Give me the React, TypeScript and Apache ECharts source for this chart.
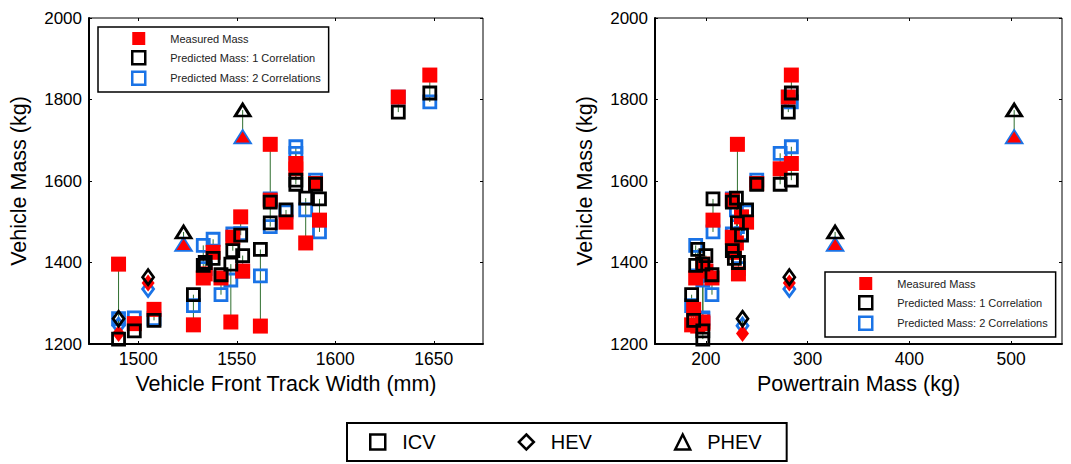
import React, { useEffect, useRef } from "react";
import * as echarts from "echarts";

// ---------- DATA ----------
// ICV vehicles
const icvTrack = [1490, 1498, 1508, 1528, 1533, 1538, 1542, 1547, 1548, 1552, 1553, 1562, 1567, 1567, 1575, 1580, 1580, 1585, 1590, 1592, 1632, 1648, 1534];
const icvPowertrain = [197, 197, 188, 186, 190, 228, 206, 197, 226, 235, 200, 192, 231, 226, 240, 284, 273, 230, 250, 207, 281, 284, 232];
const icvMeasured = [1396, 1250, 1285, 1247, 1362, 1425, 1362, 1254, 1462, 1512, 1379, 1244, 1690, 1553, 1499, 1643, 1630, 1448, 1594, 1504, 1806, 1860, 1372];
const icvPred1 = [1212, 1232, 1258, 1321, 1393, 1410, 1370, 1396, 1429, 1467, 1417, 1432, 1497, 1548, 1529, 1602, 1592, 1558, 1592, 1556, 1769, 1816, 1400];
const icvPred2 = [1262, 1264, 1262, 1294, 1442, 1457, 1321, 1357, 1470, 1471, 1379, 1367, 1488, 1556, 1524, 1684, 1668, 1529, 1602, 1475, 1806, 1794, 1385];

// HEV vehicles
const hevTrack = [1490, 1505];
const hevPowertrain = [236, 282];
const hevMeasured = [1226, 1350];
const hevPred1 = [1262, 1364];
const hevPred2 = [1245, 1335];

// PHEV vehicles
const phevTrack = [1553, 1523];
const phevPowertrain = [503, 327];
const phevMeasured = [1708, 1444];
const phevPred1 = [1774, 1475];
const phevPred2 = [1708, 1444];

// Axis ticks
const trackTicks = [1500, 1550, 1600, 1650];
const powertrainTicks = [200, 300, 400, 500];
const massTicksMin = 1200;
const massTicksMax = 2000;
const massTickStep = 200;

const LEG_MEAS = "Measured Mass";
const LEG_P1 = "Predicted Mass: 1 Correlation";
const LEG_P2 = "Predicted Mass: 2 Correlations";
const typeLegend = ["ICV", "HEV", "PHEV"];

// ---------- STYLE ----------
const FONT = "'Liberation Sans', Arial, Helvetica, sans-serif";
const RED = "#ff0000";
const BLUE = "#1a73e6";
const BLACK = "#000000";
const GREEN = "#2f6f2f";
const NONE = "rgba(0,0,0,0)";

const plain = (v: number) => String(v);

function pairs(xs: number[], ys: number[]) {
  return xs.map((x, i) => [x, ys[i]]);
}

function spans(xs: number[], a: number[], b: number[], c: number[]) {
  return xs.map((x, i) => [x, Math.min(a[i], b[i], c[i]), Math.max(a[i], b[i], c[i])]);
}

function buildSeries(
  xi: number,
  yi: number,
  icvX: number[],
  hevX: number[],
  phevX: number[]
) {
  const base = { xAxisIndex: xi, yAxisIndex: yi, silent: true };
  const lineData = [
    ...spans(icvX, icvMeasured, icvPred1, icvPred2),
    ...spans(hevX, hevMeasured, hevPred1, hevPred2),
    ...spans(phevX, phevMeasured, phevPred1, phevPred2),
  ];
  const filled = { color: RED, opacity: 1 };
  const hollow = (color: string) => ({ color: NONE, borderColor: color, borderWidth: 2.8, opacity: 1 });
  return [
    {
      ...base,
      type: "custom",
      name: "links",
      data: lineData,
      encode: { x: 0, y: [1, 2] },
      renderItem: (_p: any, api: any) => {
        const a = api.coord([api.value(0), api.value(1)]);
        const b = api.coord([api.value(0), api.value(2)]);
        return {
          type: "line",
          shape: { x1: a[0], y1: a[1], x2: b[0], y2: b[1] },
          style: { stroke: GREEN, lineWidth: 1 },
        };
      },
    },
    // predicted 2
    { ...base, type: "scatter", name: LEG_P2, symbol: "rect", symbolSize: 12, itemStyle: hollow(BLUE), data: pairs(icvX, icvPred2) },
    { ...base, type: "scatter", name: "HEV p2", symbol: "diamond", symbolSize: [11, 15], itemStyle: hollow(BLUE), data: pairs(hevX, hevPred2) },
    { ...base, type: "scatter", name: "PHEV p2", symbol: "triangle", symbolSize: [15, 12], itemStyle: hollow(BLUE), data: pairs(phevX, phevPred2) },
    // measured
    { ...base, type: "scatter", name: LEG_MEAS, symbol: "rect", symbolSize: 15, itemStyle: filled, data: pairs(icvX, icvMeasured) },
    { ...base, type: "scatter", name: "HEV measured", symbol: "diamond", symbolSize: [13, 17], itemStyle: filled, data: pairs(hevX, hevMeasured) },
    { ...base, type: "scatter", name: "PHEV measured", symbol: "triangle", symbolSize: [14, 11], itemStyle: filled, data: pairs(phevX, phevMeasured) },
    // predicted 1
    { ...base, type: "scatter", name: LEG_P1, symbol: "rect", symbolSize: 12, itemStyle: hollow(BLACK), data: pairs(icvX, icvPred1) },
    { ...base, type: "scatter", name: "HEV p1", symbol: "diamond", symbolSize: [11, 15], itemStyle: hollow(BLACK), data: pairs(hevX, hevPred1) },
    { ...base, type: "scatter", name: "PHEV p1", symbol: "triangle", symbolSize: [15, 12], itemStyle: hollow(BLACK), data: pairs(phevX, phevPred1) },
  ];
}

function xAxes(grid: number, min: number, max: number, ticks: number[], name: string) {
  return [
    {
      type: "value",
      gridIndex: grid,
      min,
      max,
      position: "bottom",
      name,
      nameLocation: "middle",
      nameGap: 29,
      nameTextStyle: { fontSize: 21.5, color: BLACK, fontFamily: FONT },
      axisLine: { show: true, onZero: false, lineStyle: { color: BLACK, width: 2 } },
      axisTick: { show: true, inside: true, length: 3, customValues: ticks, lineStyle: { color: BLACK } },
      axisLabel: { customValues: ticks, formatter: plain, fontSize: 17.5, color: BLACK, fontFamily: FONT, margin: 6 },
      splitLine: { show: false },
    },
    {
      type: "value",
      gridIndex: grid,
      min,
      max,
      position: "top",
      axisLine: { show: false },
      axisTick: { show: true, inside: true, length: 3, customValues: ticks, lineStyle: { color: BLACK } },
      axisLabel: { show: false },
      splitLine: { show: false },
    },
  ];
}

function yAxes(grid: number) {
  return [
    {
      type: "value",
      gridIndex: grid,
      min: massTicksMin,
      max: massTicksMax,
      interval: massTickStep,
      position: "left",
      name: "Vehicle Mass (kg)",
      nameLocation: "middle",
      nameGap: 59,
      nameTextStyle: { fontSize: 21.5, color: BLACK, fontFamily: FONT },
      axisLine: { show: true, onZero: false, lineStyle: { color: BLACK, width: 2 } },
      axisTick: { show: true, inside: true, length: 3, lineStyle: { color: BLACK } },
      axisLabel: { formatter: plain, fontSize: 17, color: BLACK, fontFamily: FONT, margin: 7 },
      splitLine: { show: false },
    },
    {
      type: "value",
      gridIndex: grid,
      min: massTicksMin,
      max: massTicksMax,
      interval: massTickStep,
      position: "right",
      axisLine: { show: false },
      axisTick: { show: true, inside: true, length: 3, lineStyle: { color: BLACK } },
      axisLabel: { show: false },
      splitLine: { show: false },
    },
  ];
}

function plotLegend(left: number, top: number) {
  return {
    orient: "vertical",
    left,
    top,
    selectedMode: false,
    padding: [5, 8, 6, 33],
    itemGap: 5,
    itemWidth: 13,
    itemHeight: 13,
    borderColor: BLACK,
    borderWidth: 1.5,
    backgroundColor: "#fff",
    textStyle: { fontSize: 11, color: "#222", fontFamily: FONT, padding: [0, 0, 0, 20] },
    data: [
      { name: LEG_MEAS, icon: "rect", itemStyle: { color: RED, borderWidth: 0, opacity: 1 } },
      { name: LEG_P1, icon: "rect", itemStyle: { color: NONE, borderColor: BLACK, borderWidth: 2.5, opacity: 1 } },
      { name: LEG_P2, icon: "rect", itemStyle: { color: NONE, borderColor: BLUE, borderWidth: 2.5, opacity: 1 } },
    ],
  };
}

const option: any = {
  animation: false,
  backgroundColor: "#fff",
  textStyle: { fontFamily: FONT },
  grid: [
    { left: 89, top: 18, width: 394, height: 326, show: true, borderColor: BLACK, borderWidth: 1, backgroundColor: NONE },
    { left: 655, top: 18, width: 407, height: 326, show: true, borderColor: BLACK, borderWidth: 1, backgroundColor: NONE },
  ],
  xAxis: [
    ...xAxes(0, 1475, 1675, trackTicks, "Vehicle Front Track Width (mm)"),
    ...xAxes(1, 150, 550, powertrainTicks, "Powertrain Mass (kg)"),
  ],
  yAxis: [...yAxes(0), ...yAxes(1)],
  legend: [
    plotLegend(98, 27),
    plotLegend(825, 272),
    {
      orient: "horizontal",
      left: 347,
      top: 423,
      selectedMode: false,
      padding: [9, 25, 9, 22],
      itemGap: 82,
      itemWidth: 15,
      itemHeight: 15,
      borderColor: BLACK,
      borderWidth: 2,
      textStyle: { fontSize: 20, color: BLACK, fontFamily: FONT, padding: [0, 0, 0, 12] },
      data: [
        { name: typeLegend[0], icon: "rect", itemStyle: { color: NONE, borderColor: BLACK, borderWidth: 2.5, opacity: 1 } },
        { name: typeLegend[1], icon: "diamond", itemStyle: { color: NONE, borderColor: BLACK, borderWidth: 2.5, opacity: 1 } },
        { name: typeLegend[2], icon: "triangle", itemStyle: { color: NONE, borderColor: BLACK, borderWidth: 2.5, opacity: 1 } },
      ],
    },
  ],
  series: [
    ...buildSeries(0, 0, icvTrack, hevTrack, phevTrack),
    ...buildSeries(2, 2, icvPowertrain, hevPowertrain, phevPowertrain),
    ...typeLegend.map((n) => ({ type: "scatter", name: n, xAxisIndex: 0, yAxisIndex: 0, data: [] })),
  ],
};

export default function App() {
  const ref = useRef<HTMLDivElement>(null);
  useEffect(() => {
    if (!ref.current) return;
    const chart = echarts.init(ref.current, null, { renderer: "svg" });
    chart.setOption(option);
    return () => chart.dispose();
  }, []);
  return (
    <div
      ref={ref}
      style={{ position: "absolute", left: 0, top: 0, width: 1071, height: 464, background: "#fff" }}
    />
  );
}
